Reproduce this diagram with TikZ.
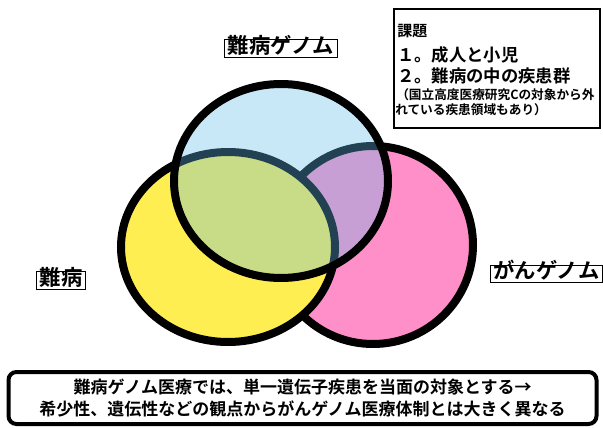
\documentclass[tikz,border=0pt]{standalone}
\usepackage{fontspec}
\newfontfamily\jp{Noto Sans CJK JP}[BoldFont={* Bold}]
\usetikzlibrary{shapes.geometric}
\definecolor{yel}{RGB}{255,238,82}
\definecolor{pnk}{RGB}{255,143,200}
\definecolor{blu}{RGB}{98,189,235}
\begin{document}
\begin{tikzpicture}[x=0.75pt,y=-0.75pt,
  vset/.style={ellipse, draw=black, line width=6pt, inner sep=0pt},
  lbl/.style={draw=black, line width=0.9pt, inner xsep=2.5pt, inner ysep=1.5pt,
    text height=0.86em, text depth=0.14em, font=\jp\bfseries\fontsize{16}{18}\selectfont},
  boxtxt/.style={anchor=west, inner sep=0pt, font=\jp\bfseries\fontsize{13}{15}\selectfont},
  smalltxt/.style={anchor=west, inner sep=0pt, font=\jp\bfseries\fontsize{9.5}{11}\selectfont}
]
\useasboundingbox (0,0) rectangle (603,428);
% sets
\node[vset, fill=pnk, minimum width=150pt, minimum height=148.5pt] (gan) at (373,245) {};
\node[vset, fill=yel, minimum width=160.5pt, minimum height=142.5pt] (nan) at (228,247) {};
\node[vset, fill=blu, fill opacity=0.35, minimum width=160.5pt, minimum height=145.5pt] (gen) at (281,181) {};
% labels
\node[lbl] (lgen) at (281,48.5) {難病ゲノム};
\node[lbl] (lnan) at (61,280.5) {難病};
\node[lbl] (lgan) at (546.5,274) {がんゲノム};
% issue box
\node[draw=black, line width=1.2pt, minimum width=154.5pt, minimum height=89pt, inner sep=0pt] (issue) at (497,68.5) {};
\node[boxtxt, font=\jp\bfseries\fontsize{11.25}{13}\selectfont] (t0) at (397,31.5) {課題};
\node[boxtxt] (t1) at (397,54.5) {１。成人と小児};
\node[boxtxt] (t2) at (397,75.5) {２。難病の中の疾患群};
\node[smalltxt] (t3) at (396,95) {（国立高度医療研究Cの対象から外};
\node[smalltxt] (t4) at (395,110) {れている疾患領域もあり）};
% bottom note
\node[draw=black, line width=3pt, rounded corners=6pt, minimum width=441pt, minimum height=39pt,
  align=center, inner sep=0pt, font=\jp\bfseries\fontsize{12.75}{16.5}\selectfont] (note) at (302.5,398)
  {難病ゲノム医療では、単一遺伝子疾患を当面の対象とする→\\希少性、遺伝性などの観点からがんゲノム医療体制とは大きく異なる};
\end{tikzpicture}
\end{document}
